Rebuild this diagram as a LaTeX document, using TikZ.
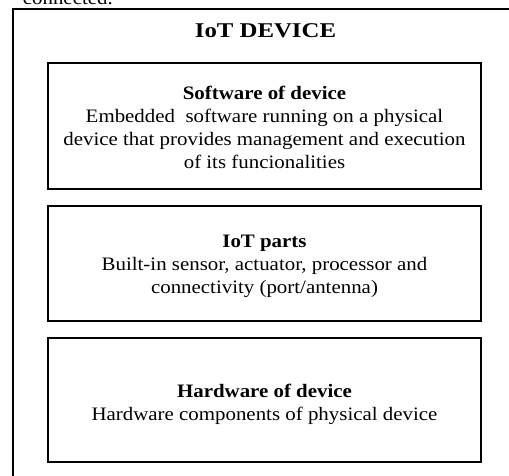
\documentclass[tikz,border=0pt]{standalone}
\usepackage{fontspec}
\setmainfont{Liberation Serif}
\newfontfamily\bodyfont{Liberation Serif}[FakeStretch=1.1]
\newfontfamily\titlefont{Liberation Serif}[FakeStretch=1.18]
\begin{document}
\begin{tikzpicture}[x=1pt,y=-1pt,
  outerbox/.style={draw=black, line width=2pt, inner sep=0pt},
  partbox/.style={draw=black, line width=1.5pt, inner sep=0pt, minimum width=433pt},
  parttext/.style={align=center, inner sep=0pt, font=\bodyfont\fontsize{19}{23}\selectfont},
  titletext/.style={inner sep=0pt, font=\titlefont\fontsize{21}{25}\selectfont\bfseries}]
\useasboundingbox (0,0) rectangle (509,475);
\node[anchor=base east, inner sep=0pt, font=\bodyfont\fontsize{19}{23}\selectfont] (prev) at (113,4.5) {connected.};
\node[outerbox, minimum width=507pt, minimum height=481pt] (device) at (266.5,249.5) {};
\node[titletext, anchor=base] (title) at (265.5,37) {IoT DEVICE};
\node[partbox, minimum height=126pt] (sw) at (264.5,126) {};
\node[partbox, minimum height=115pt] (parts) at (264.5,263.5) {};
\node[partbox, minimum height=124pt] (hw) at (264.5,400) {};
\node[parttext] (swt) at (264.5,127) {\textbf{Software of device}\\Embedded\ \ software running on a physical\\device that provides management\ and\ execution\\of its funcionalities};
\node[parttext] (partst) at (264.5,266.5) {\textbf{IoT parts}\\Built-in sensor, actuator, processor and\\connectivity (port/antenna)};
\node[parttext] (hwt) at (264.5,404) {\textbf{Hardware\ of device}\\Hardware components of physical\ device};
\end{tikzpicture}
\end{document}
